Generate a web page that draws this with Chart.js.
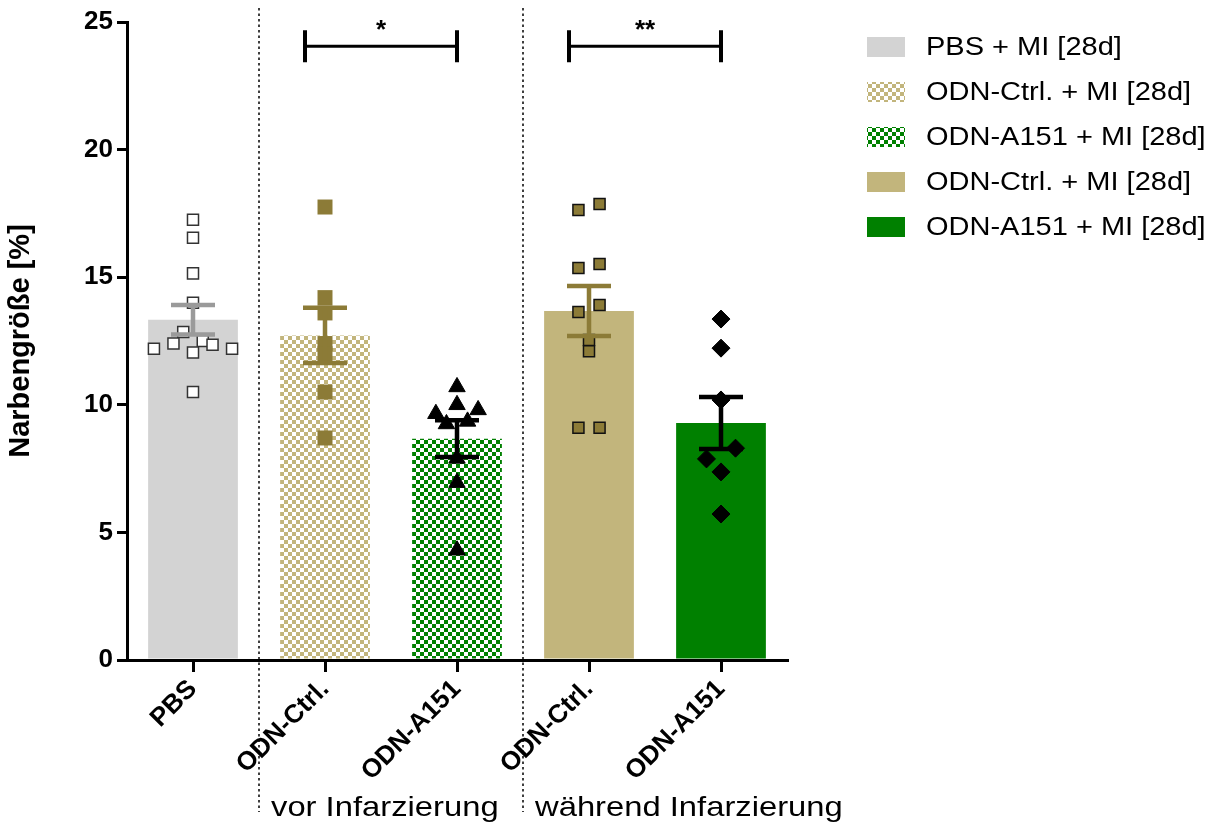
<!DOCTYPE html>
<html lang="de">
<head>
<meta charset="UTF-8">
<title>Narbengröße</title>
<script src="https://cdn.jsdelivr.net/npm/chart.js"></script>
<style>
    body { margin: 0; background: #fff; }
    canvas { display: block; }
</style>
</head>
<body>
<canvas id="scarChart" width="1215" height="825"></canvas>
<script>
// --- data ---
const groups = ["PBS", "ODN-Ctrl.", "ODN-A151", "ODN-Ctrl.", "ODN-A151"];
const legendLabels = ["PBS + MI [28d]", "ODN-Ctrl. + MI [28d]", "ODN-A151 + MI [28d]", "ODN-Ctrl. + MI [28d]", "ODN-A151 + MI [28d]"];
const means = [13.33, 12.72, 8.67, 13.68, 9.29];
const sem = [0.58, 1.08, 0.72, 0.98, 1.02];

const pbsPoints = [17.25, 16.55, 15.15, 14.0, 12.85, 12.5, 12.2, 12.4, 12.05, 12.35, 12.2, 10.5];
const ctrlVorPoints = [17.75, 14.2, 13.6, 12.4, 12.0, 10.5, 8.7];
const a151VorPoints = [10.7, 9.65, 10.0, 9.8, 9.25, 9.35, 7.9, 6.95, 4.3];
const ctrlWaehrendPoints = [17.63, 17.87, 15.36, 15.52, 13.64, 13.91, 12.54, 12.1, 9.1, 9.1];
const a151WaehrendPoints = [13.36, 12.22, 10.19, 7.88, 8.3, 7.37, 5.72];

const significance = [
    { from: 1, to: 2, label: "*" },
    { from: 3, to: 4, label: "**" }
];
const sigLevel = 24.05;
const phases = [
    { label: "vor Infarzierung", from: 1 },
    { label: "während Infarzierung", from: 3 }
];

// --- styles ---
const grey = "#d3d3d3", tan = "#c2b57c", green = "#008000", olive = "#8c7b37";
const errColors = ["#9a9a9a", olive, "#000", olive, "#000"];

const canvas = document.getElementById("scarChart");
const ctx0 = canvas.getContext("2d");

function checker(color) {
    const c = document.createElement("canvas");
    c.width = 8; c.height = 8;
    const g = c.getContext("2d");
    g.fillStyle = "#fff"; g.fillRect(0, 0, 8, 8);
    g.fillStyle = color; g.fillRect(0, 0, 4, 4); g.fillRect(4, 4, 4, 4);
    return ctx0.createPattern(c, "repeat");
}
const barFills = [grey, checker(tan), checker(green), tan, green];

// spread points that would overlap into a row around the category centre
function swarm(values, center, minGap, step) {
    const idx = values.map((v, i) => i).sort((a, b) => values[b] - values[a]);
    const rows = [];
    idx.forEach(i => {
        const row = rows[rows.length - 1];
        if (row && values[row[0]] - values[i] < minGap) row.push(i);
        else rows.push([i]);
    });
    const pts = [];
    rows.forEach(row => {
        row.sort((a, b) => a - b);
        row.forEach((i, k) => pts.push({ x: center + (k - (row.length - 1) / 2) * step, y: values[i] }));
    });
    return pts;
}

const errorBars = {
    id: "errorBars",
    afterDatasetsDraw(chart) {
        const { ctx, scales: { x, y } } = chart;
        means.forEach((m, i) => {
            const px = x.getPixelForValue(i);
            const top = y.getPixelForValue(m + sem[i]);
            const bot = y.getPixelForValue(m - sem[i]);
            ctx.save();
            ctx.strokeStyle = errColors[i];
            ctx.lineWidth = 4.5;
            ctx.beginPath();
            ctx.moveTo(px, top); ctx.lineTo(px, bot);
            ctx.moveTo(px - 22, top); ctx.lineTo(px + 22, top);
            ctx.moveTo(px - 22, bot); ctx.lineTo(px + 22, bot);
            ctx.stroke();
            ctx.restore();
        });
    }
};

function stretchedText(ctx, text, x, y, sx) {
    ctx.save();
    ctx.translate(x, y);
    ctx.scale(sx, 1);
    ctx.fillText(text, 0, 0);
    ctx.restore();
}

const extras = {
    id: "extras",
    afterDraw(chart) {
        const { ctx, scales: { x, y } } = chart;
        ctx.save();
        ctx.fillStyle = "#000";
        ctx.strokeStyle = "#000";

        // dotted separators + phase labels
        phases.forEach(p => {
            const sx = (x.getPixelForValue(p.from - 1) + x.getPixelForValue(p.from)) / 2;
            ctx.save();
            ctx.setLineDash([2.5, 3]);
            ctx.lineWidth = 1.5;
            ctx.beginPath();
            ctx.moveTo(sx, 8); ctx.lineTo(sx, 812);
            ctx.stroke();
            ctx.restore();
            ctx.font = "28px Arial, 'Liberation Sans', sans-serif";
            ctx.textAlign = "left";
            ctx.textBaseline = "alphabetic";
            stretchedText(ctx, p.label, sx + 12, 816, 1.17);
        });

        // significance brackets
        const yl = y.getPixelForValue(sigLevel);
        significance.forEach(s => {
            const x1 = x.getPixelForValue(s.from) - 20, x2 = x.getPixelForValue(s.to);
            ctx.lineWidth = 3;
            ctx.beginPath(); ctx.moveTo(x1, yl); ctx.lineTo(x2, yl); ctx.stroke();
            ctx.lineWidth = 4;
            ctx.beginPath();
            ctx.moveTo(x1, yl - 16); ctx.lineTo(x1, yl + 16);
            ctx.moveTo(x2, yl - 16); ctx.lineTo(x2, yl + 16);
            ctx.stroke();
            ctx.font = "bold 26px Arial, 'Liberation Sans', sans-serif";
            ctx.textAlign = "center";
            ctx.textBaseline = "middle";
            ctx.fillText(s.label, (x1 + x2) / 2, yl - 15);
        });

        // legend
        ctx.font = "25px Arial, 'Liberation Sans', sans-serif";
        ctx.textAlign = "left";
        ctx.textBaseline = "middle";
        legendLabels.forEach((lab, i) => {
            const cy = 47 + i * 45;
            ctx.fillStyle = barFills[i];
            ctx.fillRect(867, cy - 10, 38, 20);
            ctx.fillStyle = "#000";
            stretchedText(ctx, lab, 926, cy + 1, 1.16);
        });
        ctx.restore();
    }
};

const boldFont = size => ({ family: "Arial, 'Liberation Sans', sans-serif", size: size, weight: "bold" });

new Chart(canvas, {
    data: {
        labels: groups,
        datasets: [
            {
                type: "bar", data: means, backgroundColor: barFills, borderWidth: 0,
                barPercentage: 0.68, categoryPercentage: 1, grouped: false, order: 10
            },
            {
                type: "scatter", xAxisID: "xs", data: swarm(pbsPoints, 0, 0.44, 0.148),
                pointStyle: "rect", pointRadius: 7.8, backgroundColor: "#fff",
                borderColor: "#333", borderWidth: 1.5, order: 1
            },
            {
                type: "scatter", xAxisID: "xs", data: swarm(ctrlVorPoints, 1, 0.35, 0.16),
                pointStyle: "rect", pointRadius: 10.6, backgroundColor: olive,
                borderColor: olive, borderWidth: 0, order: 1
            },
            {
                type: "scatter", xAxisID: "xs", data: swarm(a151VorPoints, 2, 0.5, 0.16),
                pointStyle: "triangle", pointRadius: 9.5, backgroundColor: "#000",
                borderColor: "#000", borderWidth: 1, order: 1
            },
            {
                type: "scatter", xAxisID: "xs", data: swarm(ctrlWaehrendPoints, 3, 0.43, 0.16),
                pointStyle: "rect", pointRadius: 7.8, backgroundColor: olive,
                borderColor: "#111", borderWidth: 1.5, order: 1
            },
            {
                type: "scatter", xAxisID: "xs", data: swarm(a151WaehrendPoints, 4, 0.5, 0.22),
                pointStyle: "rectRot", pointRadius: 9, backgroundColor: "#000",
                borderColor: "#000", borderWidth: 1, order: 1
            }
        ]
    },
    options: {
        responsive: false,
        animation: false,
        events: [],
        layout: { padding: { left: 0, top: 22, right: 428, bottom: 0 } },
        plugins: { legend: { display: false }, tooltip: { enabled: false } },
        scales: {
            x: {
                type: "category",
                offset: true,
                grid: { offset: false, drawOnChartArea: false, drawTicks: true, tickLength: 12, lineWidth: 3, color: "#000" },
                border: { display: true, width: 3, color: "#000" },
                ticks: { font: boldFont(26), color: "#000", minRotation: 45, maxRotation: 45, padding: 2 },
                afterFit: s => { s.height = 165; }
            },
            xs: { type: "linear", min: -0.5, max: 4.5, display: false },
            y: {
                min: 0, max: 25,
                ticks: { stepSize: 5, font: boldFont(26), color: "#000", padding: 4 },
                grid: { drawOnChartArea: false, drawTicks: true, tickLength: 10, lineWidth: 3, color: "#000" },
                border: { display: true, width: 3, color: "#000" },
                title: { display: true, text: "Narbengröße [%]", font: boldFont(29), color: "#000", padding: { top: 4, bottom: 8 } },
                afterFit: s => { s.width = 127; }
            }
        }
    },
    plugins: [errorBars, extras]
});
</script>
</body>
</html>
